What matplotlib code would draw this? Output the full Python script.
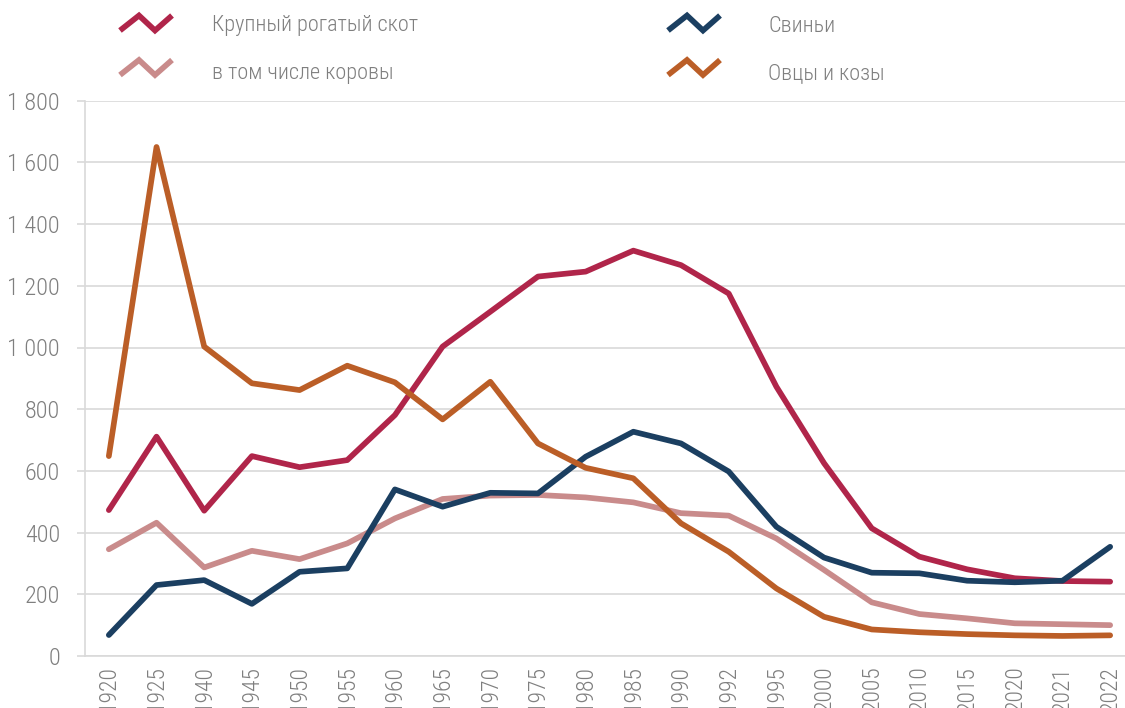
import matplotlib
matplotlib.use("Agg")
import matplotlib.pyplot as plt
from matplotlib.lines import Line2D
from matplotlib import font_manager as fm

years = ['1920', '1925', '1940', '1945', '1950', '1955', '1960', '1965', '1970',
         '1975', '1980', '1985', '1990', '1992', '1995', '2000', '2005', '2010',
         '2015', '2020', '2021', '2022']

cattle = [473, 711, 471, 648, 612, 635, 781, 1003, 1116, 1230, 1246, 1314, 1267,
          1175, 873, 625, 414, 322, 281, 252, 243, 241]
cows = [346, 432, 287, 341, 314, 365, 446, 509, 520, 522, 514, 498, 463, 455,
        381, 279, 174, 136, 122, 106, 103, 100]
pigs = [68, 230, 246, 169, 273, 284, 540, 484, 529, 527, 646, 727, 689, 598,
        419, 319, 270, 268, 244, 239, 244, 354]
sheep_goats = [648, 1650, 1003, 884, 862, 941, 887, 767, 889, 689, 610, 576, 430,
               338, 219, 127, 86, 77, 71, 67, 65, 67]

series = [
    ('Крупный рогатый скот', cattle, '#B0254A'),
    ('в том числе коровы', cows, '#C98B8B'),
    ('Свиньи', pigs, '#1B3F61'),
    ('Овцы и козы', sheep_goats, '#BB5E27'),
]

y_ticks = [0, 200, 400, 600, 800, 1000, 1200, 1400, 1600, 1800]
y_labels = ['{:,}'.format(v).replace(',', ' ') for v in y_ticks]

# Narrow light face for all text
names = {f.name for f in fm.fontManager.ttflist}
if 'Roboto Condensed' in names:
    font = fm.FontProperties(family=['Roboto Condensed', 'DejaVu Sans'], weight=300)
else:
    font = fm.FontProperties(family=['Open Sans', 'DejaVu Sans'], stretch='condensed', weight=300)

grid_c = '#D9D9D9'
text_c = '#7F7F7F'
LW = 4.1

fig = plt.figure(figsize=(11.25, 7.08), dpi=100)
ax = fig.add_axes([85 / 1125, 52 / 708, 1049 / 1125, 555.3 / 708])

x = list(range(len(years)))
for name, vals, col in series:
    ax.plot(x, vals, color=col, lw=LW, solid_capstyle='round',
            solid_joinstyle='round', zorder=3)

ax.set_xlim(-0.5, len(years) - 0.5)
ax.set_ylim(0, 1800)
ax.set_xticks(x)
ax.set_xticklabels(years, rotation=90, color=text_c, fontproperties=font, fontsize=17)
ax.set_yticks(y_ticks)
ax.set_yticklabels(y_labels, color=text_c, fontproperties=font, fontsize=17.5)
ax.tick_params(axis='x', length=0, pad=7)
ax.tick_params(axis='y', length=6, width=1.2, color=grid_c, pad=12)
ax.grid(axis='y', color=grid_c, lw=1.2, zorder=0)
for s in ['top', 'right']:
    ax.spines[s].set_visible(False)
for s in ['left', 'bottom']:
    ax.spines[s].set_color(grid_c)
    ax.spines[s].set_linewidth(1.2)

# Legend: zigzag swatches with labels, two columns (positions in pixels from top-left)
W, H = 1125.0, 708.0
legend_pos = [(120, 23, 212, 26), (120, 67.5, 212, 74),
              (668, 23, 768, 26), (668, 67.5, 768, 74)]
for (name, vals, col), (x0, yc, tx, ty) in zip(series, legend_pos):
    xs = [x0, x0 + 19, x0 + 35, x0 + 52]
    ys = [yc + 7.5, yc - 7.5, yc + 7.5, yc - 7.5]
    fig.add_artist(Line2D([v / W for v in xs], [1 - v / H for v in ys],
                          color=col, lw=LW, solid_joinstyle='miter',
                          solid_capstyle='butt', transform=fig.transFigure))
    fig.text(tx / W, 1 - ty / H, name, color=text_c, fontproperties=font,
             fontsize=16, ha='left', va='center')

fig.savefig('out.png', dpi=100, facecolor='white')
